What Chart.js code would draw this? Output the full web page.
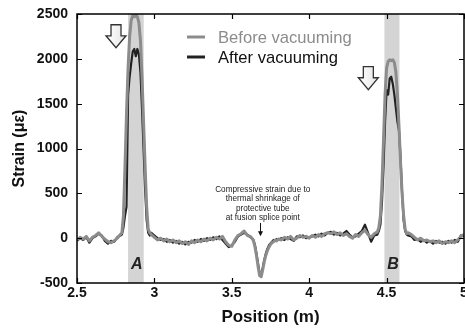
<!DOCTYPE html>
<html>
<head>
<meta charset="utf-8">
<script src="https://cdn.jsdelivr.net/npm/chart.js"></script>
<style>
  html, body { margin: 0; padding: 0; background: #fff; }
  #wrap { width: 465px; height: 333px; }
</style>
</head>
<body>
<div id="wrap"><canvas id="myChart" width="465" height="333"></canvas></div>
<script>
// positions along the fibre (m)
var positions = [
  2.50, 2.52, 2.54, 2.56, 2.58, 2.60, 2.62, 2.64, 2.66, 2.68, 2.70, 2.72, 2.74, 2.76, 2.78,
  2.79, 2.80, 2.81, 2.82, 2.83, 2.84, 2.85, 2.86, 2.87, 2.88, 2.89, 2.90, 2.91, 2.92, 2.93, 2.94, 2.95, 2.96, 2.97,
  2.98, 3.00, 3.02, 3.04, 3.06, 3.08, 3.10, 3.12, 3.14, 3.16, 3.18, 3.20, 3.22, 3.24, 3.26, 3.28, 3.30,
  3.32, 3.34, 3.36, 3.38, 3.40, 3.42, 3.44, 3.46, 3.48, 3.50, 3.52, 3.54, 3.56, 3.58, 3.60, 3.62,
  3.63, 3.64, 3.65, 3.66, 3.67, 3.68, 3.69, 3.70, 3.71, 3.72, 3.73, 3.74, 3.75, 3.76, 3.77, 3.78, 3.79, 3.80,
  3.82, 3.84, 3.86, 3.88, 3.90, 3.92, 3.94, 3.96, 3.98, 4.00, 4.02, 4.04, 4.06, 4.08, 4.10, 4.12,
  4.14, 4.16, 4.18, 4.20, 4.22, 4.24, 4.26, 4.28, 4.30, 4.32, 4.34, 4.36, 4.38, 4.40, 4.42, 4.44,
  4.45, 4.46, 4.47, 4.48, 4.49, 4.50, 4.51, 4.52, 4.53, 4.54, 4.55, 4.56, 4.57, 4.58, 4.59, 4.60, 4.61, 4.62, 4.63,
  4.64, 4.66, 4.68, 4.70, 4.72, 4.74, 4.76, 4.78, 4.80, 4.82, 4.84, 4.86, 4.88, 4.90, 4.92, 4.94, 4.96, 4.98, 5.00
];

// strain before vacuuming (microstrain)
var beforeStrain = [
  -20, 10, -10, 20, -30, 10, 30, 60, 20, -10, -40, -50, -30, 0, 40,
  60, 250, 800, 1400, 1900, 2250, 2430, 2480, 2470, 2490, 2470, 2400, 2200, 1800, 1300, 800, 350, 100, 60,
  40, 10, -20, 0, -30, -10, -40, -20, -50, -30, -60, -40, -70, -30, -50, -20, -40,
  -10, -30, 0, -20, 10, -10, 20, -40, -80, -90, -20, 30, 50, 80, 30, 20,
  0, -30, -100, -200, -320, -420, -430, -350, -260, -190, -140, -100, -70, -50, -40, -20, -30, -10,
  -20, 10, -10, 20, -20, 0, 30, 10, 20, 0, 30, 10, 40, 20, 50, 60,
  50, 70, 40, 60, 30, 50, 20, 0, 40, 20, 60, 90, 40, 10, 50, 70,
  120, 250, 600, 1100, 1600, 1900, 1970, 1990, 1980, 1990, 1960, 1850, 1600, 1250, 850, 500, 250, 100, 50,
  60, 40, 10, -20, 0, -30, -20, -40, -30, -50, -30, -60, -40, -50, -30, -50, -20, 20, 40
];

// strain after vacuuming (microstrain)
var afterStrain = [
  -30, 0, -20, 10, -50, 0, 20, 50, 30, -30, -60, -30, -40, 10, 30,
  40, 120, 250, 350, 1600, 1800, 1950, 2080, 2110, 2030, 2110, 2050, 1850, 1450, 1000, 550, 200, 60, 30,
  60, 30, 0, -20, -10, -40, -20, -50, -30, -60, -40, -70, -40, -50, -20, -40, -10,
  -30, 0, -20, 10, -10, 20, -20, -60, -100, -80, -40, 20, 40, 60, 40, 10,
  0, -20, -80, -180, -290, -390, -410, -330, -240, -170, -120, -80, -60, -40, -20, -30, -10, -20,
  0, -20, 10, -10, -30, 20, 10, 30, 0, 10, 20, 40, 20, 50, 30, 60,
  70, 40, 60, 30, 50, 80, 40, 10, 20, 50, 80, 150, 60, -40, 30, 40,
  80, 150, 400, 800, 1300, 1650, 1600, 1780, 1800, 1720, 1600, 1450, 1300, 1200, 900, 500, 200, 80, 40,
  30, 20, -20, -10, -40, -20, -50, -30, -60, -30, -50, -40, -60, -30, -50, -20, -40, 30, 20
];

var seriesNames = ['Before vacuuming', 'After vacuuming'];
var xTicks = [2.5, 3, 3.5, 4, 4.5, 5];
var xTickLabels = ['2.5', '3', '3.5', '4', '4.5', '5'];
var yTicks = [-500, 0, 500, 1000, 1500, 2000, 2500];
var yTickLabels = ['-500', '0', '500', '1000', '1500', '2000', '2500'];

// splice regions (m)
var bandNames = ['A', 'B'];
var bandStart = [2.83, 4.486];
var bandEnd = [2.931, 4.583];

var noteLines = ['Compressive strain due to', 'thermal shrinkage of', 'protective tube', 'at fusion splice point'];

var FONT = '"Liberation Sans", Arial, Helvetica, sans-serif';

function toPoints(xs, ys) {
    var pts = [];
    for (var i = 0; i < xs.length; i++) {
        pts.push({x: xs[i], y: ys[i]});
    }
    return pts;
}

function blockArrow(ctx, cx, top, bottom) {
    var headY = top + (bottom - top) * 0.48;
    ctx.beginPath();
    ctx.moveTo(cx - 5, top);
    ctx.lineTo(cx + 5, top);
    ctx.lineTo(cx + 5, headY);
    ctx.lineTo(cx + 10, headY);
    ctx.lineTo(cx, bottom);
    ctx.lineTo(cx - 10, headY);
    ctx.lineTo(cx - 5, headY);
    ctx.closePath();
    var g = ctx.createLinearGradient(cx - 10, 0, cx + 10, 0);
    g.addColorStop(0, '#ffffff');
    g.addColorStop(1, '#e6e6e6');
    ctx.fillStyle = g;
    ctx.fill();
    ctx.lineWidth = 1.3;
    ctx.strokeStyle = '#333';
    ctx.lineJoin = 'miter';
    ctx.stroke();
}

var decor = {
    id: 'decor',
    beforeDatasetsDraw: function(chart) {
        var ctx = chart.ctx, a = chart.chartArea, xs = chart.scales.x;
        ctx.save();
        ctx.fillStyle = '#d4d4d4';
        for (var i = 0; i < bandStart.length; i++) {
            var x0 = xs.getPixelForValue(bandStart[i]);
            var x1 = xs.getPixelForValue(bandEnd[i]);
            ctx.fillRect(x0, a.top, x1 - x0, a.bottom - a.top);
        }
        ctx.restore();
    },
    afterDatasetsDraw: function(chart) {
        var ctx = chart.ctx, a = chart.chartArea;
        var xs = chart.scales.x, ys = chart.scales.y;
        ctx.save();

        // frame + inward ticks
        ctx.strokeStyle = '#000';
        ctx.lineWidth = 1.5;
        ctx.strokeRect(a.left, a.top, a.right - a.left, a.bottom - a.top);
        ctx.lineWidth = 1.2;
        ctx.beginPath();
        xTicks.forEach(function(v) {
            var px = Math.round(xs.getPixelForValue(v)) + 0.5;
            ctx.moveTo(px, a.bottom); ctx.lineTo(px, a.bottom - 5);
            ctx.moveTo(px, a.top); ctx.lineTo(px, a.top + 5);
        });
        yTicks.forEach(function(v) {
            var py = Math.round(ys.getPixelForValue(v)) + 0.5;
            ctx.moveTo(a.left, py); ctx.lineTo(a.left + 5, py);
            ctx.moveTo(a.right, py); ctx.lineTo(a.right - 5, py);
        });
        ctx.stroke();

        // band labels
        ctx.fillStyle = '#222';
        ctx.font = 'italic bold 16px ' + FONT;
        ctx.textAlign = 'center';
        ctx.textBaseline = 'middle';
        for (var i = 0; i < bandNames.length; i++) {
            var cx = (xs.getPixelForValue(bandStart[i]) + xs.getPixelForValue(bandEnd[i])) / 2;
            ctx.fillText(bandNames[i], cx + 1, a.bottom - 18);
        }

        // hollow arrows above the peaks
        blockArrow(ctx, xs.getPixelForValue(2.752), ys.getPixelForValue(2380), ys.getPixelForValue(2124));
        blockArrow(ctx, xs.getPixelForValue(4.382), ys.getPixelForValue(1912), ys.getPixelForValue(1656));

        // annotation
        var nx = xs.getPixelForValue(3.70);
        var ny = ys.getPixelForValue(541);
        ctx.fillStyle = '#222';
        ctx.font = '8.2px ' + FONT;
        noteLines.forEach(function(t, k) {
            ctx.fillText(t, nx, ny + k * 9.5);
        });
        var ax = Math.round(xs.getPixelForValue(3.684)) + 0.5;
        var ay0 = ys.getPixelForValue(170), ay1 = ys.getPixelForValue(20);
        ctx.strokeStyle = '#111';
        ctx.lineWidth = 1;
        ctx.beginPath();
        ctx.moveTo(ax, ay0); ctx.lineTo(ax, ay1 - 4);
        ctx.stroke();
        ctx.beginPath();
        ctx.moveTo(ax - 2.5, ay1 - 5); ctx.lineTo(ax + 2.5, ay1 - 5); ctx.lineTo(ax, ay1);
        ctx.closePath();
        ctx.fillStyle = '#111';
        ctx.fill();

        // legend
        var ds = chart.data.datasets;
        ctx.font = '16.6px ' + FONT;
        ctx.textAlign = 'left';
        for (var j = 0; j < ds.length; j++) {
            var ly = 37 + j * 20;
            ctx.strokeStyle = ds[j].borderColor;
            ctx.lineWidth = 3;
            ctx.beginPath();
            ctx.moveTo(187, ly); ctx.lineTo(205, ly);
            ctx.stroke();
            ctx.fillStyle = j === 0 ? '#8c8c8c' : '#111';
            ctx.fillText(ds[j].label, 218, ly + 1);
        }
        ctx.restore();
    }
};

var ctx = document.getElementById('myChart');
var myChart = new Chart(ctx, {
    type: 'line',
    data: {
        datasets: [{
            label: seriesNames[0],
            data: toPoints(positions, beforeStrain),
            borderColor: '#8c8c8c',
            borderWidth: 3,
            pointRadius: 0,
            tension: 0,
            borderJoinStyle: 'round'
        }, {
            label: seriesNames[1],
            data: toPoints(positions, afterStrain),
            borderColor: '#222222',
            borderWidth: 2.2,
            pointRadius: 0,
            tension: 0,
            borderJoinStyle: 'round'
        }]
    },
    options: {
        responsive: false,
        animation: false,
        layout: { padding: { top: 14, right: 1, left: 0, bottom: 0 } },
        plugins: { legend: { display: false }, tooltip: { enabled: false } },
        scales: {
            x: {
                type: 'linear',
                min: 2.5, max: 5,
                grid: { display: false, drawTicks: false },
                border: { display: false },
                afterBuildTicks: function(scale) {
                    scale.ticks = xTicks.map(function(v) { return {value: v}; });
                },
                afterFit: function(scale) {
                    scale.height = 50;
                    scale.paddingLeft = 0;
                    scale.paddingRight = 0;
                },
                ticks: {
                    autoSkip: false, maxRotation: 0, padding: 2, color: '#111',
                    font: { family: FONT, size: 14, weight: 'bold' },
                    callback: function(v) { return xTickLabels[xTicks.indexOf(v)]; }
                },
                title: {
                    display: true, text: 'Position (m)', color: '#111',
                    font: { family: FONT, size: 17, weight: 'bold' },
                    padding: { top: 0, bottom: 5 }
                }
            },
            y: {
                min: -500, max: 2500,
                grid: { display: false, drawTicks: false },
                border: { display: false },
                afterBuildTicks: function(scale) {
                    scale.ticks = yTicks.map(function(v) { return {value: v}; });
                },
                afterFit: function(scale) {
                    scale.width = 77;
                    scale.paddingTop = 0;
                    scale.paddingBottom = 0;
                },
                ticks: {
                    padding: 9, color: '#111',
                    font: { family: FONT, size: 14, weight: 'bold' },
                    callback: function(v) { return yTickLabels[yTicks.indexOf(v)]; }
                },
                title: {
                    display: true, text: 'Strain (με)', color: '#111',
                    font: { family: FONT, size: 16, weight: 'bold' },
                    padding: { top: 10, bottom: 0 }
                }
            }
        }
    },
    plugins: [decor]
});
</script>
</body>
</html>
